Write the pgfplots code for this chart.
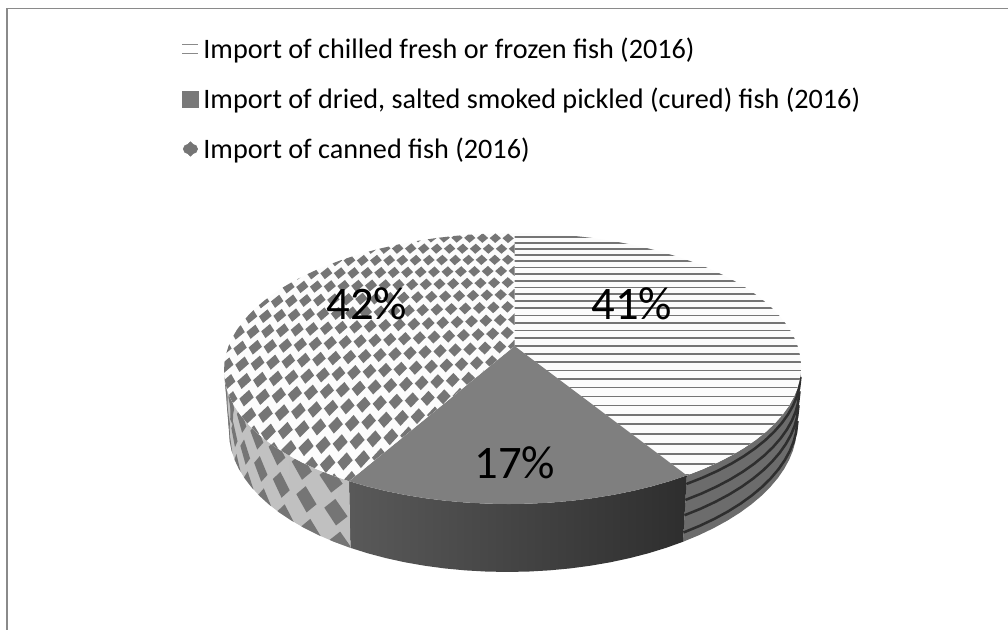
\documentclass[border=0pt]{standalone}
\usepackage{pgfplots}
\usepackage{pgfplotstable}
\usepackage{fontspec}
\pgfplotsset{compat=1.18}
\setmainfont{Carlito}

\definecolor{face}{HTML}{FCFCFC}
\definecolor{ink}{HTML}{757575}
\definecolor{midface}{HTML}{7F7F7F}
\definecolor{rimstripe}{HTML}{2E2E2E}
\definecolor{rimright}{HTML}{6C6C6C}
\definecolor{frame}{HTML}{8A8A8A}

% share of each slice, with the place of its label
\pgfplotstableread[row sep=\\]{
lx ly share\\
632 304 41\\
515 463 17\\
367 304 42\\
}\sharetable

% outlines of the top faces, in percent of the circle: p, radius, level
\pgfplotstableread[row sep=\\]{
p r h\\
0 0 0\\ 0 1 0\\ 1 1 0\\ 2 1 0\\ 3 1 0\\ 4 1 0\\ 5 1 0\\ 6 1 0\\ 7 1 0\\ 8 1 0\\ 9 1 0\\
10 1 0\\ 11 1 0\\ 12 1 0\\ 13 1 0\\ 14 1 0\\ 15 1 0\\ 16 1 0\\ 17 1 0\\ 18 1 0\\ 19 1 0\\
20 1 0\\ 21 1 0\\ 22 1 0\\ 23 1 0\\ 24 1 0\\ 25 1 0\\ 26 1 0\\ 27 1 0\\ 28 1 0\\ 29 1 0\\
30 1 0\\ 31 1 0\\ 32 1 0\\ 33 1 0\\ 34 1 0\\ 35 1 0\\ 36 1 0\\ 37 1 0\\ 38 1 0\\ 39 1 0\\
40 1 0\\ 41 1 0\\
}\topA
\pgfplotstableread[row sep=\\]{
p r h\\
41 0 0\\ 41 1 0\\ 42 1 0\\ 43 1 0\\ 44 1 0\\ 45 1 0\\ 46 1 0\\ 47 1 0\\ 48 1 0\\ 49 1 0\\
50 1 0\\ 51 1 0\\ 52 1 0\\ 53 1 0\\ 54 1 0\\ 55 1 0\\ 56 1 0\\ 57 1 0\\ 58 1 0\\
}\topB
\pgfplotstableread[row sep=\\]{
p r h\\
58 0 0\\ 58 1 0\\ 59 1 0\\
60 1 0\\ 61 1 0\\ 62 1 0\\ 63 1 0\\ 64 1 0\\ 65 1 0\\ 66 1 0\\ 67 1 0\\ 68 1 0\\ 69 1 0\\
70 1 0\\ 71 1 0\\ 72 1 0\\ 73 1 0\\ 74 1 0\\ 75 1 0\\ 76 1 0\\ 77 1 0\\ 78 1 0\\ 79 1 0\\
80 1 0\\ 81 1 0\\ 82 1 0\\ 83 1 0\\ 84 1 0\\ 85 1 0\\ 86 1 0\\ 87 1 0\\ 88 1 0\\ 89 1 0\\
90 1 0\\ 91 1 0\\ 92 1 0\\ 93 1 0\\ 94 1 0\\ 95 1 0\\ 96 1 0\\ 97 1 0\\ 98 1 0\\ 99 1 0\\
100 1 0\\
}\topC

% outer walls: along the upper rim (h=0), back along the lower rim (h=1)
\pgfplotstableread[row sep=\\]{
p r h\\
27.7 1 0\\ 29 1 0\\ 30 1 0\\ 31 1 0\\ 32 1 0\\ 33 1 0\\ 34 1 0\\ 35 1 0\\ 36 1 0\\ 37 1 0\\
38 1 0\\ 39 1 0\\ 40 1 0\\ 41 1 0\\
41 1 1\\ 40 1 1\\ 39 1 1\\ 38 1 1\\ 37 1 1\\ 36 1 1\\ 35 1 1\\ 34 1 1\\ 33 1 1\\ 32 1 1\\
31 1 1\\ 30 1 1\\ 29 1 1\\ 27.7 1 1\\
}\wallA
\pgfplotstableread[row sep=\\]{
p r h\\
41 1 0\\ 42 1 0\\ 43 1 0\\ 44 1 0\\ 45 1 0\\ 46 1 0\\ 47 1 0\\ 48 1 0\\ 49 1 0\\
50 1 0\\ 51 1 0\\ 52 1 0\\ 53 1 0\\ 54 1 0\\ 55 1 0\\ 56 1 0\\ 57 1 0\\ 58 1 0\\
58 1 1\\ 57 1 1\\ 56 1 1\\ 55 1 1\\ 54 1 1\\ 53 1 1\\ 52 1 1\\ 51 1 1\\ 50 1 1\\
49 1 1\\ 48 1 1\\ 47 1 1\\ 46 1 1\\ 45 1 1\\ 44 1 1\\ 43 1 1\\ 42 1 1\\ 41 1 1\\
}\wallB
\pgfplotstableread[row sep=\\]{
p r h\\
58 1 0\\ 59 1 0\\ 60 1 0\\ 61 1 0\\ 62 1 0\\ 63 1 0\\ 64 1 0\\ 65 1 0\\ 66 1 0\\ 67 1 0\\
68 1 0\\ 69 1 0\\ 70 1 0\\ 71 1 0\\ 72.3 1 0\\
72.3 1 1\\ 71 1 1\\ 70 1 1\\ 69 1 1\\ 68 1 1\\ 67 1 1\\ 66 1 1\\ 65 1 1\\ 64 1 1\\ 63 1 1\\
62 1 1\\ 61 1 1\\ 60 1 1\\ 59 1 1\\ 58 1 1\\
}\wallC
\pgfplotstableread[row sep=\\]{
p r\\
27.7 1\\ 29 1\\ 30 1\\ 31 1\\ 32 1\\ 33 1\\ 34 1\\ 35 1\\ 36 1\\ 37 1\\ 38 1\\ 39 1\\ 40 1\\ 41 1\\
}\rimA

% projected disc: percent round the circle, radius, and height down the wall
\pgfplotsset{
  table/rim/.style={
    x expr={wx(\thisrow{p},\thisrow{r},\thisrow{h})},
    y expr={wy(\thisrow{p},\thisrow{r},\thisrow{h})}},
}

\begin{document}
\begin{tikzpicture}[
  declare function={
    wx(\p,\r,\h)=514.5+1.5*\h+(284.5-4.5*\h)*\r*sin(3.6*\p)/(1+0.166*\r*cos(3.6*\p))-(5.8+3*\h)*\r*sin(1.8*\p)^4;
    wy(\p,\r,\h)=346+59.3*\h-(131.8+7.2*\h)*\r*cos(3.6*\p)/(1+0.166*\r*cos(3.6*\p));
    tv(\u,\v)=\v-0.18*\u*(\v-0.8);
    tx(\u,\v)=514.5+284.5*\u/(1+0.166*tv(\u,\v));
    ty(\u,\v)=346-131.8*tv(\u,\v)/(1+0.166*tv(\u,\v));
  }]
\useasboundingbox (0pt,0pt) rectangle (756pt,472.5pt);
\begin{axis}[
  at={(0pt,0pt)},anchor=south west,
  scale only axis,width=756pt,height=472.5pt,
  xmin=0,xmax=1008,ymin=0,ymax=630,y dir=reverse,
  hide axis,
  /pgf/number format/assume math mode=true,
  legend cell align=left,
  legend style={at={(axis cs:181.5,37.5)},anchor=north west,draw=none,fill=none,
    font=\fontsize{21.15pt}{24pt}\selectfont,inner sep=0pt,
    row sep=20.5pt,nodes={inner sep=0pt},
    /tikz/column 1/.style={column sep=3.2pt}},
]
% legend keys
\addlegendimage{legend image code/.code={
  \draw[frame,line width=1pt] (0pt,3.4pt)--(12pt,3.4pt) (0pt,-3.4pt)--(12pt,-3.4pt);}}
\addlegendentry{Import of chilled fresh or frozen fish (2016)}
\addlegendimage{legend image code/.code={
  \fill[midface!95!black] (0pt,-6pt) rectangle (12pt,6pt);}}
\addlegendentry{Import of dried, salted smoked pickled (cured) fish (2016)}
\addlegendimage{legend image code/.code={
  \fill[ink] (6pt,-5.4pt)--(8pt,-3.4pt)--(10.2pt,-2.6pt)--(11.4pt,0pt)--(10.2pt,2.6pt)--(8pt,3.4pt)
    --(6pt,5.4pt)--(4pt,3.4pt)--(1.8pt,2.6pt)--(0.6pt,0pt)--(1.8pt,-2.6pt)--(4pt,-3.4pt)--cycle;}}
\addlegendentry{Import of canned fish (2016)}

% walls
\addplot[fill=rimright,draw=none,forget plot] table[rim] {\wallA} -- cycle;
\pgfplotsinvokeforeach{0.13,0.37,0.6,0.86}{
  \addplot[rimstripe,line width=1.9pt,forget plot] table[x expr={wx(\thisrow{p},1,#1)},y expr={wy(\thisrow{p},1,#1)}] {\rimA};
}
\addplot[left color=black!65,right color=black!82,draw=none,forget plot] table[rim] {\wallB} -- cycle;
\addplot[left color=black!24,middle color=black!15,right color=black!25,draw=none,forget plot] table[rim] {\wallC} -- cycle;
\pgfplotsextra{
  \begin{scope}
  \clip (axis cs:{wx(58,1,0)},{wy(58,1,0)})
    \foreach \p in {59,60,...,72} {-- (axis cs:{wx(\p,1,0)},{wy(\p,1,0)})}
    \foreach \p in {72,71,...,58} {-- (axis cs:{wx(\p,1,1)},{wy(\p,1,1)})} -- cycle;
  \foreach \row in {0,1,2} {
    \foreach \col in {0,...,8} {
      \pgfmathsetmacro{\pc}{59.1-0.25*\row+1.95*\col}
      \pgfmathsetmacro{\hc}{0.07+0.47*\row}
      \fill[ink] (axis cs:{wx(\pc-0.72,1,\hc)},{wy(\pc-0.72,1,\hc)})
        -- (axis cs:{wx(\pc,1,\hc-0.2)},{wy(\pc,1,\hc-0.2)})
        -- (axis cs:{wx(\pc+0.72,1,\hc)},{wy(\pc+0.72,1,\hc)})
        -- (axis cs:{wx(\pc,1,\hc+0.2)},{wy(\pc,1,\hc+0.2)}) -- cycle;
    }
  }
  \end{scope}
}

% top faces
\addplot[fill=face,draw=none,forget plot] table[rim] {\topA} -- cycle;
\addplot[fill=midface,draw=none,forget plot] table[rim] {\topB} -- cycle;
\addplot[fill=face,draw=none,forget plot] table[rim] {\topC} -- cycle;

% ruled hatch on the first slice, spaced in the plane of the disc
\pgfplotsextra{
  \begin{scope}
  \clip (axis cs:{wx(0,0,0)},{wy(0,0,0)})
    \foreach \p in {0,1,...,41} {-- (axis cs:{wx(\p,1,0)},{wy(\p,1,0)})} -- cycle;
  \foreach \j in {-16,...,16} {
    \pgfmathsetmacro{\vv}{\j*0.06}
    \pgfmathsetmacro{\yy}{346-131.8*\vv/(1+0.166*\vv)}
    \draw[ink,line width=1.3pt] (axis cs:500,\yy) -- (axis cs:820,\yy);
  }
  \end{scope}
}
% diamond hatch on the last slice
\pgfplotsextra{
  \begin{scope}
  \clip (axis cs:{wx(58,0,0)},{wy(58,0,0)})
    \foreach \p in {58,59,...,100} {-- (axis cs:{wx(\p,1,0)},{wy(\p,1,0)})} -- cycle;
  \foreach \j in {-12,...,9} {
    \foreach \i in {-21,...,1} {
      \pgfmathsetmacro{\vv}{\j*0.105}
      \pgfmathsetmacro{\uu}{(\i+0.5*mod(abs(\j),2))*0.052}
      \pgfmathsetmacro{\du}{0.023}
      \pgfmathsetmacro{\dv}{0.048}
      \fill[ink]
        (axis cs:{tx(\uu-\du,\vv)},{ty(\uu-\du,\vv)})
        -- (axis cs:{tx(\uu,\vv+\dv)},{ty(\uu,\vv+\dv)})
        -- (axis cs:{tx(\uu+\du,\vv)},{ty(\uu+\du,\vv)})
        -- (axis cs:{tx(\uu,\vv-\dv)},{ty(\uu,\vv-\dv)})
        -- cycle;
    }
  }
  \end{scope}
}

% value labels
\addplot[draw=none,forget plot,point meta=explicit,
  nodes near coords={\pgfmathprintnumber{\pgfplotspointmeta}\%},
  nodes near coords style={anchor=center,inner sep=0pt,text=black,font=\fontsize{35pt}{38pt}\selectfont}]
  table[x=lx,y=ly,meta=share] {\sharetable};

% chart frame: left and top edges only
\draw[frame,line width=1.5pt] (axis cs:7,630) -- (axis cs:7,8.3);
\draw[frame,line width=1pt] (axis cs:6.3,8.3) -- (axis cs:1008,8.3);
\end{axis}
\end{tikzpicture}
\end{document}
